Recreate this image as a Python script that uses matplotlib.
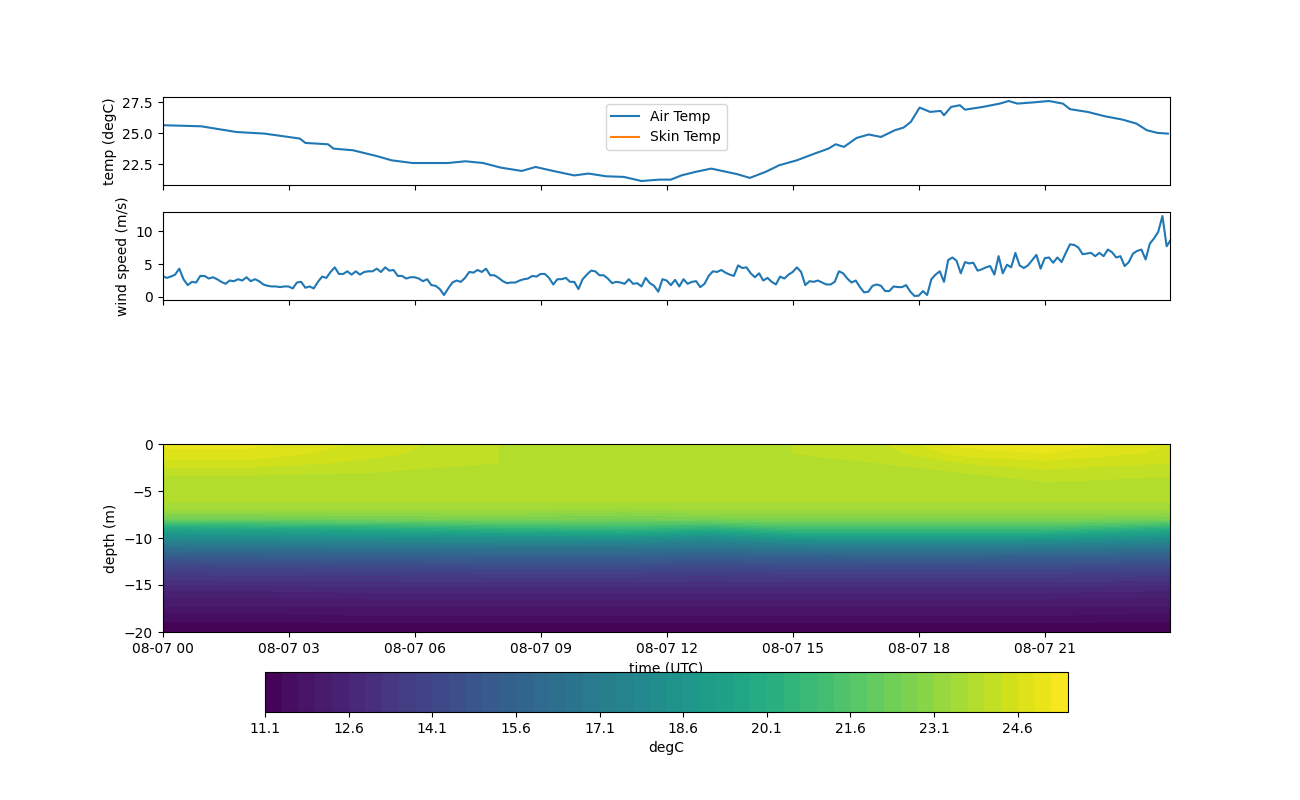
import numpy as np
import matplotlib
matplotlib.use("Agg")
import matplotlib.pyplot as plt

# 1. 时间序列数据 (小时, 从 08-07 00 UTC 起)
air_hours = [0, 0.92, 1.76, 2.43, 3.0, 3.27, 3.4, 3.94, 4.07, 4.53, 5.11, 5.45,
             5.95, 6.79, 7.21, 7.63, 8.05, 8.55, 8.88, 9.3, 9.8, 10.14, 10.56,
             10.98, 11.4, 11.82, 12.1, 12.35, 12.68, 13.06, 13.35, 13.68, 13.98,
             14.35, 14.68, 15.1, 15.52, 15.85, 16.02, 16.22, 16.52, 16.81, 17.1,
             17.43, 17.64, 17.81, 18.02, 18.27, 18.52, 18.6, 18.77, 18.98, 19.1,
             19.52, 19.93, 20.14, 20.35, 20.77, 21.1, 21.43, 21.6, 22.02, 22.43,
             22.85, 23.18, 23.43, 23.68, 23.93]
air_temp = [25.65, 25.56, 25.1, 24.97, 24.7, 24.57, 24.22, 24.11, 23.76, 23.63,
            23.15, 22.82, 22.6, 22.6, 22.74, 22.6, 22.23, 21.96, 22.28, 21.96,
            21.6, 21.75, 21.53, 21.48, 21.15, 21.26, 21.26, 21.6, 21.88, 22.15,
            21.94, 21.7, 21.4, 21.88, 22.42, 22.82, 23.36, 23.76, 24.11, 23.9,
            24.62, 24.9, 24.7, 25.24, 25.46, 25.91, 27.07, 26.72, 26.8, 26.45,
            27.12, 27.26, 26.9, 27.12, 27.39, 27.6, 27.39, 27.5, 27.6, 27.39,
            26.94, 26.72, 26.37, 26.1, 25.78, 25.24, 25.03, 24.97]
skin_temp = [np.nan] * len(air_hours)  # 没有有效数据

# 风速: 每 6 分钟一个值
wind_step_h = 0.1
wind_speed = [
    3.2, 2.9, 3.1, 3.4, 4.3, 2.7, 1.8, 2.3, 2.2, 3.2, 3.2, 2.8, 3.0, 2.7, 2.3,
    2.0, 2.5, 2.4, 2.7, 2.5, 3.0, 2.4, 2.7, 2.4, 1.9, 1.7, 1.6, 1.6, 1.5, 1.6,
    1.6, 1.3, 2.2, 2.3, 1.4, 1.6, 1.3, 2.3, 3.1, 2.9, 3.8, 4.5, 3.5, 3.5, 3.9,
    3.4, 3.9, 3.4, 3.8, 3.9, 3.9, 4.3, 3.8, 4.5, 4.0, 4.1, 3.2, 3.2, 2.8, 3.0,
    3.0, 2.8, 2.4, 2.7, 1.8, 1.7, 1.2, 0.3, 1.3, 2.2, 2.5, 2.3, 2.9, 3.8, 3.7,
    4.1, 3.8, 4.3, 3.3, 3.3, 2.9, 2.4, 2.1, 2.2, 2.2, 2.5, 2.7, 2.8, 3.2, 3.1,
    3.5, 3.5, 2.9, 1.9, 2.7, 2.7, 2.9, 2.3, 2.3, 1.2, 2.7, 3.4, 4.0, 3.9, 3.3,
    3.3, 2.8, 2.1, 2.3, 2.2, 2.0, 2.7, 2.0, 2.1, 1.6, 2.9, 2.1, 1.7, 0.8, 2.7,
    2.5, 1.8, 2.6, 1.6, 2.7, 2.0, 2.3, 2.4, 1.5, 2.0, 3.2, 3.9, 3.8, 4.1, 3.7,
    3.4, 3.2, 4.8, 4.4, 4.5, 3.6, 3.0, 3.6, 2.5, 2.9, 2.3, 1.9, 3.1, 2.8, 3.4,
    3.8, 4.5, 3.8, 1.8, 2.4, 2.3, 2.5, 2.2, 1.9, 1.9, 2.3, 3.9, 3.6, 2.8, 2.2,
    2.5, 1.5, 0.7, 0.8, 1.7, 1.9, 1.7, 0.9, 0.9, 1.6, 1.5, 1.5, 1.8, 0.8, 0.15,
    0.2, 0.9, 0.3, 2.7, 3.4, 3.9, 2.3, 5.6, 6.0, 5.5, 3.6, 5.3, 5.1, 5.2, 4.0,
    4.2, 4.5, 4.7, 3.4, 6.2, 3.6, 4.9, 4.5, 6.7, 4.8, 4.4, 4.8, 5.6, 6.4, 4.3,
    5.9, 6.0, 5.2, 6.0, 5.3, 6.7, 8.0, 7.9, 7.5, 6.5, 6.6, 6.7, 6.2, 6.7, 6.2,
    7.2, 6.8, 6.0, 6.2, 4.7, 5.3, 6.6, 7.0, 7.2, 5.7, 8.1, 8.9, 9.9, 12.3, 7.7,
    8.7]

# 2. 水温剖面 (每列一个时刻, 深度 0 ~ -20 m)
field_hours = [0, 2, 5, 8, 11, 13, 15, 17, 19, 21, 24]
depths = [0, -1, -2, -3, -4, -5, -6, -7, -8, -9, -10,
          -11, -12, -13, -14, -15, -16, -17, -18, -19, -20]
p_00 = [25.0, 24.8, 24.5, 24.1, 23.8, 23.7, 23.8, 23.4, 22.3, 19.6, 18.0, 16.4, 15.1, 14.1, 13.4, 12.9, 12.4, 12.1, 11.7, 11.35, 11.15]
p_02 = [25.0, 24.8, 24.5, 24.1, 23.8, 23.8, 23.8, 23.4, 22.3, 19.7, 18.1, 16.5, 15.2, 14.2, 13.5, 12.9, 12.4, 12.1, 11.7, 11.35, 11.15]
p_05 = [24.5, 24.4, 24.2, 24.0, 23.9, 23.8, 23.8, 23.4, 22.4, 20.0, 18.2, 16.6, 15.3, 14.3, 13.5, 13.0, 12.5, 12.1, 11.8, 11.4, 11.15]
p_08 = [24.0, 24.0, 24.0, 23.9, 23.9, 23.9, 23.8, 23.4, 22.6, 20.4, 18.3, 16.7, 15.4, 14.4, 13.6, 13.0, 12.5, 12.1, 11.8, 11.4, 11.15]
p_11 = [23.9, 23.9, 23.9, 23.9, 23.9, 23.9, 23.8, 23.3, 22.4, 20.7, 18.4, 16.7, 15.4, 14.4, 13.6, 13.0, 12.5, 12.1, 11.8, 11.4, 11.15]
p_13 = [23.9, 23.9, 23.9, 23.9, 23.9, 23.9, 23.8, 23.4, 22.6, 20.2, 18.0, 16.6, 15.3, 14.3, 13.5, 13.0, 12.5, 12.1, 11.8, 11.4, 11.15]
p_15 = [24.0, 24.0, 23.9, 23.9, 23.9, 23.9, 23.8, 23.4, 22.7, 21.0, 18.8, 16.9, 15.4, 14.4, 13.6, 13.0, 12.5, 12.1, 11.8, 11.4, 11.15]
p_17 = [24.2, 24.1, 24.0, 23.9, 23.9, 23.9, 23.8, 23.4, 22.7, 21.0, 18.8, 17.0, 15.5, 14.4, 13.6, 13.0, 12.5, 12.1, 11.8, 11.4, 11.15]
p_19 = [25.0, 24.7, 24.3, 24.0, 23.9, 23.9, 23.8, 23.4, 22.7, 21.0, 18.8, 17.0, 15.5, 14.4, 13.6, 13.0, 12.5, 12.1, 11.8, 11.4, 11.15]
p_21 = [25.2, 24.9, 24.5, 24.2, 24.0, 23.9, 23.8, 23.4, 22.7, 21.0, 18.8, 16.9, 15.4, 14.4, 13.6, 13.0, 12.5, 12.1, 11.8, 11.4, 11.15]
p_24 = [24.6, 24.5, 24.3, 24.1, 23.9, 23.9, 23.8, 23.4, 22.5, 20.0, 18.2, 16.6, 15.3, 14.3, 13.5, 12.9, 12.4, 12.1, 11.7, 11.35, 11.15]
profiles = [p_00, p_02, p_05, p_08, p_11, p_13, p_15, p_17, p_19, p_21, p_24]

levels = np.linspace(11.1, 25.5, 49)  # 0.3 degC 间隔

# 转换成时间
t0 = np.datetime64("2019-08-07T00:00")
def to_time(h):
    return t0 + np.round(np.asarray(h) * 3600).astype("timedelta64[s]")

ta = to_time(air_hours)
tw = to_time(np.arange(len(wind_speed)) * wind_step_h)
tf = to_time(field_hours)
temp_field = np.array(profiles).T

fig = plt.figure(figsize=(13, 8), dpi=100)
ax3 = fig.add_axes([0.125, 0.21, 0.775, 0.235])
ax1 = fig.add_axes([0.125, 0.76875, 0.775, 0.11], sharex=ax3)
ax2 = fig.add_axes([0.125, 0.625, 0.775, 0.11], sharex=ax3)

ax1.plot(ta, air_temp, label="Air Temp")
ax1.plot(ta, skin_temp, label="Skin Temp")
ax1.set_ylabel("temp (degC)")
ax1.legend(loc="upper center")
ax1.tick_params(labelbottom=False)

ax2.plot(tw, wind_speed)
ax2.set_ylabel("wind speed (m/s)")
ax2.tick_params(labelbottom=False)

cs = ax3.contourf(tf, depths, temp_field, levels=levels, cmap="viridis")
ax3.set_ylabel("depth (m)")
ax3.set_xlabel("time (UTC)")
ax3.set_xlim(to_time(0), to_time(23.98))
ax3.set_ylim(-20, 0)

cax = fig.add_axes([0.2038, 0.11, 0.6177, 0.05])
cb = fig.colorbar(cs, cax=cax, orientation="horizontal")
cb.set_label("degC")

fig.savefig("out.png")
